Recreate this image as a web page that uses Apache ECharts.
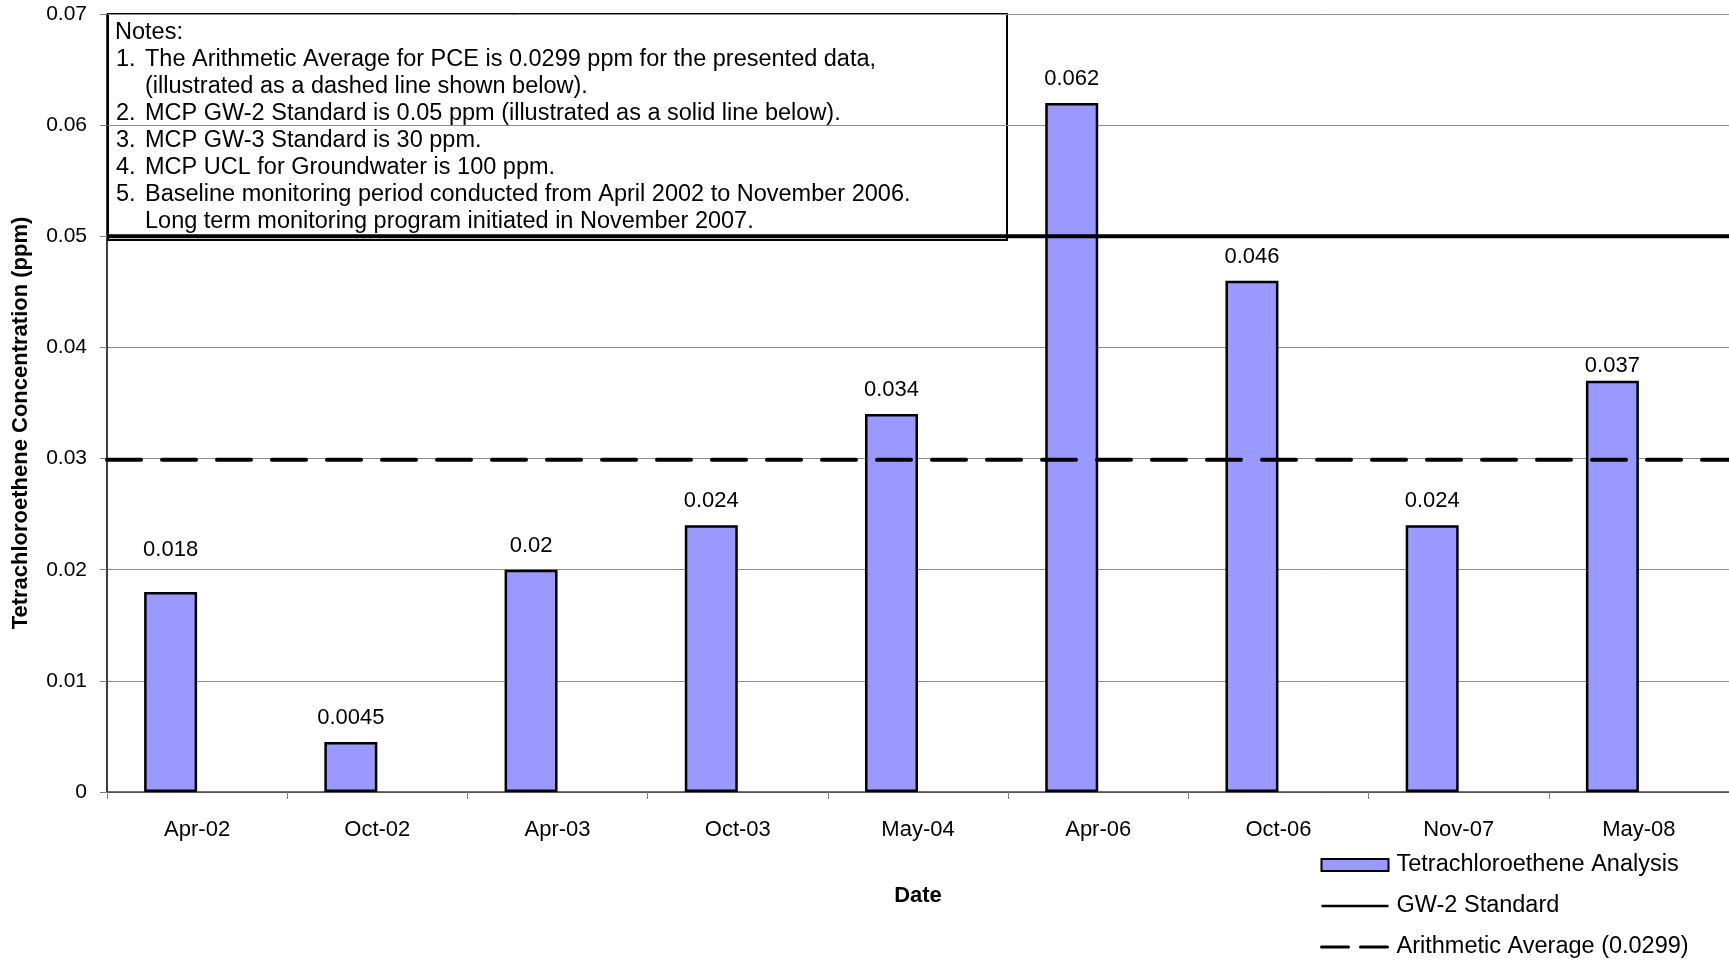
<!DOCTYPE html>
<html>
<head>
<meta charset="utf-8">
<script src="https://cdn.jsdelivr.net/npm/echarts@6/dist/echarts.min.js"></script>
<style>
html,body{margin:0;padding:0;background:#fff;}
#chart{width:1729px;height:960px;}
</style>
</head>
<body>
<div id="chart"></div>
<script>
var categories = ['Apr-02','Oct-02','Apr-03','Oct-03','May-04','Apr-06','Oct-06','Nov-07','May-08'];
var pceValues = [0.018, 0.0045, 0.02, 0.024, 0.034, 0.062, 0.046, 0.024, 0.037];
var gw2Standard = 0.05;
var arithmeticAverage = 0.0299;
var yTickLabels = ['0','0.01','0.02','0.03','0.04','0.05','0.06','0.07'];
var seriesNames = ['Tetrachloroethene Analysis','GW-2 Standard','Arithmetic Average (0.0299)'];
var notesTitle = 'Notes:';
var noteNumbers = ['1.','','2.','3.','4.','5.',''];
var noteTexts = [
  'The Arithmetic Average for PCE is 0.0299 ppm for the presented data,',
  '(illustrated as a dashed line shown below).',
  'MCP GW-2 Standard is 0.05 ppm (illustrated as a solid line below).',
  'MCP GW-3 Standard is 30 ppm.',
  'MCP UCL for Groundwater is 100 ppm.',
  'Baseline monitoring period conducted from April 2002 to November 2006.',
  'Long term monitoring program initiated in November 2007.'
];

var FONT = 'Liberation Sans, Arial, sans-serif';
var chart = echarts.init(document.getElementById('chart'), null, {renderer:'canvas'});

var noteEls = [{
  type:'rect', shape:{x:0,y:0,width:899,height:226},
  style:{fill:'#fff',stroke:'#000',lineWidth:2}
},{
  type:'text', x:7, y:19,
  style:{text:notesTitle, font:'23.5px '+FONT, fill:'#000', verticalAlign:'middle'}
}];
for (var i=0;i<noteTexts.length;i++){
  var yy = 19 + 26.9*(i+1);
  if (noteNumbers[i]) noteEls.push({type:'text', x:8, y:yy, style:{text:noteNumbers[i], font:'23.5px '+FONT, fill:'#000', verticalAlign:'middle'}});
  noteEls.push({type:'text', x:37, y:yy, style:{text:noteTexts[i], font:'23.5px '+FONT, fill:'#000', verticalAlign:'middle'}});
}

// Excel-like individual label nudges (style only)
var labelDistanceByIndex = {0:31, 8:4};
var barData = pceValues.map(function(v,i){
  if (labelDistanceByIndex[i] !== undefined) return {value:v, label:{distance:labelDistanceByIndex[i]}};
  return v;
});

var noSymbol = {color:'rgba(0,0,0,0)', borderWidth:0, opacity:0};

var option = {
  animation:false,
  backgroundColor:'#fff',
  textStyle:{fontFamily:FONT},
  grid:{left:107,right:0,top:14,bottom:168,containLabel:false},
  legend:{
    orient:'vertical', left:1320, top:853, padding:0, itemWidth:67, itemHeight:12, itemGap:17,
    textStyle:{fontSize:23.5,color:'#000',fontFamily:FONT,padding:[0,0,0,3]},
    data:[
      {name:seriesNames[0], icon:'rect'},
      {name:seriesNames[1], itemStyle:noSymbol, lineStyle:{width:2.5,color:'#000'}},
      {name:seriesNames[2], itemStyle:noSymbol, lineStyle:{width:3,color:'#000',type:[27,12]}}
    ]
  },
  xAxis:[{
    type:'category', data:categories, boundaryGap:true,
    name:'Date', nameLocation:'middle', nameGap:93,
    nameTextStyle:{fontSize:22,fontWeight:'bold',color:'#000',fontFamily:FONT},
    axisLine:{lineStyle:{color:'#404040',width:1.5}},
    axisTick:{show:true,length:7,lineStyle:{color:'#808080'}},
    axisLabel:{fontSize:22,color:'#000',margin:27,fontFamily:FONT},
    splitLine:{show:false}
  },{
    type:'value', min:0, max:1, show:false
  }],
  yAxis:{
    type:'value', min:0, max:0.07, interval:0.01,
    name:'Tetrachloroethene Concentration (ppm)', nameLocation:'middle', nameGap:75,
    nameTextStyle:{fontSize:22,fontWeight:'bold',color:'#000',fontFamily:FONT,padding:[0,40,0,0]},
    axisLine:{show:true,lineStyle:{color:'#000',width:1.5}},
    axisTick:{show:true,length:7,lineStyle:{color:'#808080'}},
    axisLabel:{fontSize:21,color:'#000',margin:20,fontFamily:FONT,
      formatter:function(v){ return yTickLabels[Math.round(v*100)]; }},
    splitLine:{show:true,lineStyle:{color:'#8c8c8c',width:1}}
  },
  series:[{
    name:seriesNames[0], type:'bar', data:barData, barWidth:'29.4%', barGap:'0%',
    itemStyle:{color:'#9999FF',borderColor:'#000',borderWidth:2.5},
    label:{show:true,position:'top',distance:13,fontSize:22,color:'#000',fontFamily:FONT,
      formatter:function(p){ return String(p.value); }}
  },{
    name:'_spacer', type:'bar', data:categories.map(function(){return null;}), barWidth:'29.4%', barGap:'0%',
    silent:true
  },{
    name:seriesNames[1], type:'line', xAxisIndex:1,
    data:[[0,gw2Standard],[1,gw2Standard]], symbol:'none',
    lineStyle:{color:'#000',width:4,type:'solid'}, itemStyle:{color:'#000'}
  },{
    name:seriesNames[2], type:'line', xAxisIndex:1,
    data:[[0,arithmeticAverage],[1,arithmeticAverage]], symbol:'none',
    lineStyle:{color:'#000',width:4,type:[34,21],cap:'round'}, itemStyle:{color:'#000'}
  }],
  graphic:[{
    type:'group', left:107, top:13, z:100, children:noteEls
  }]
};
chart.setOption(option);
</script>
</body>
</html>
